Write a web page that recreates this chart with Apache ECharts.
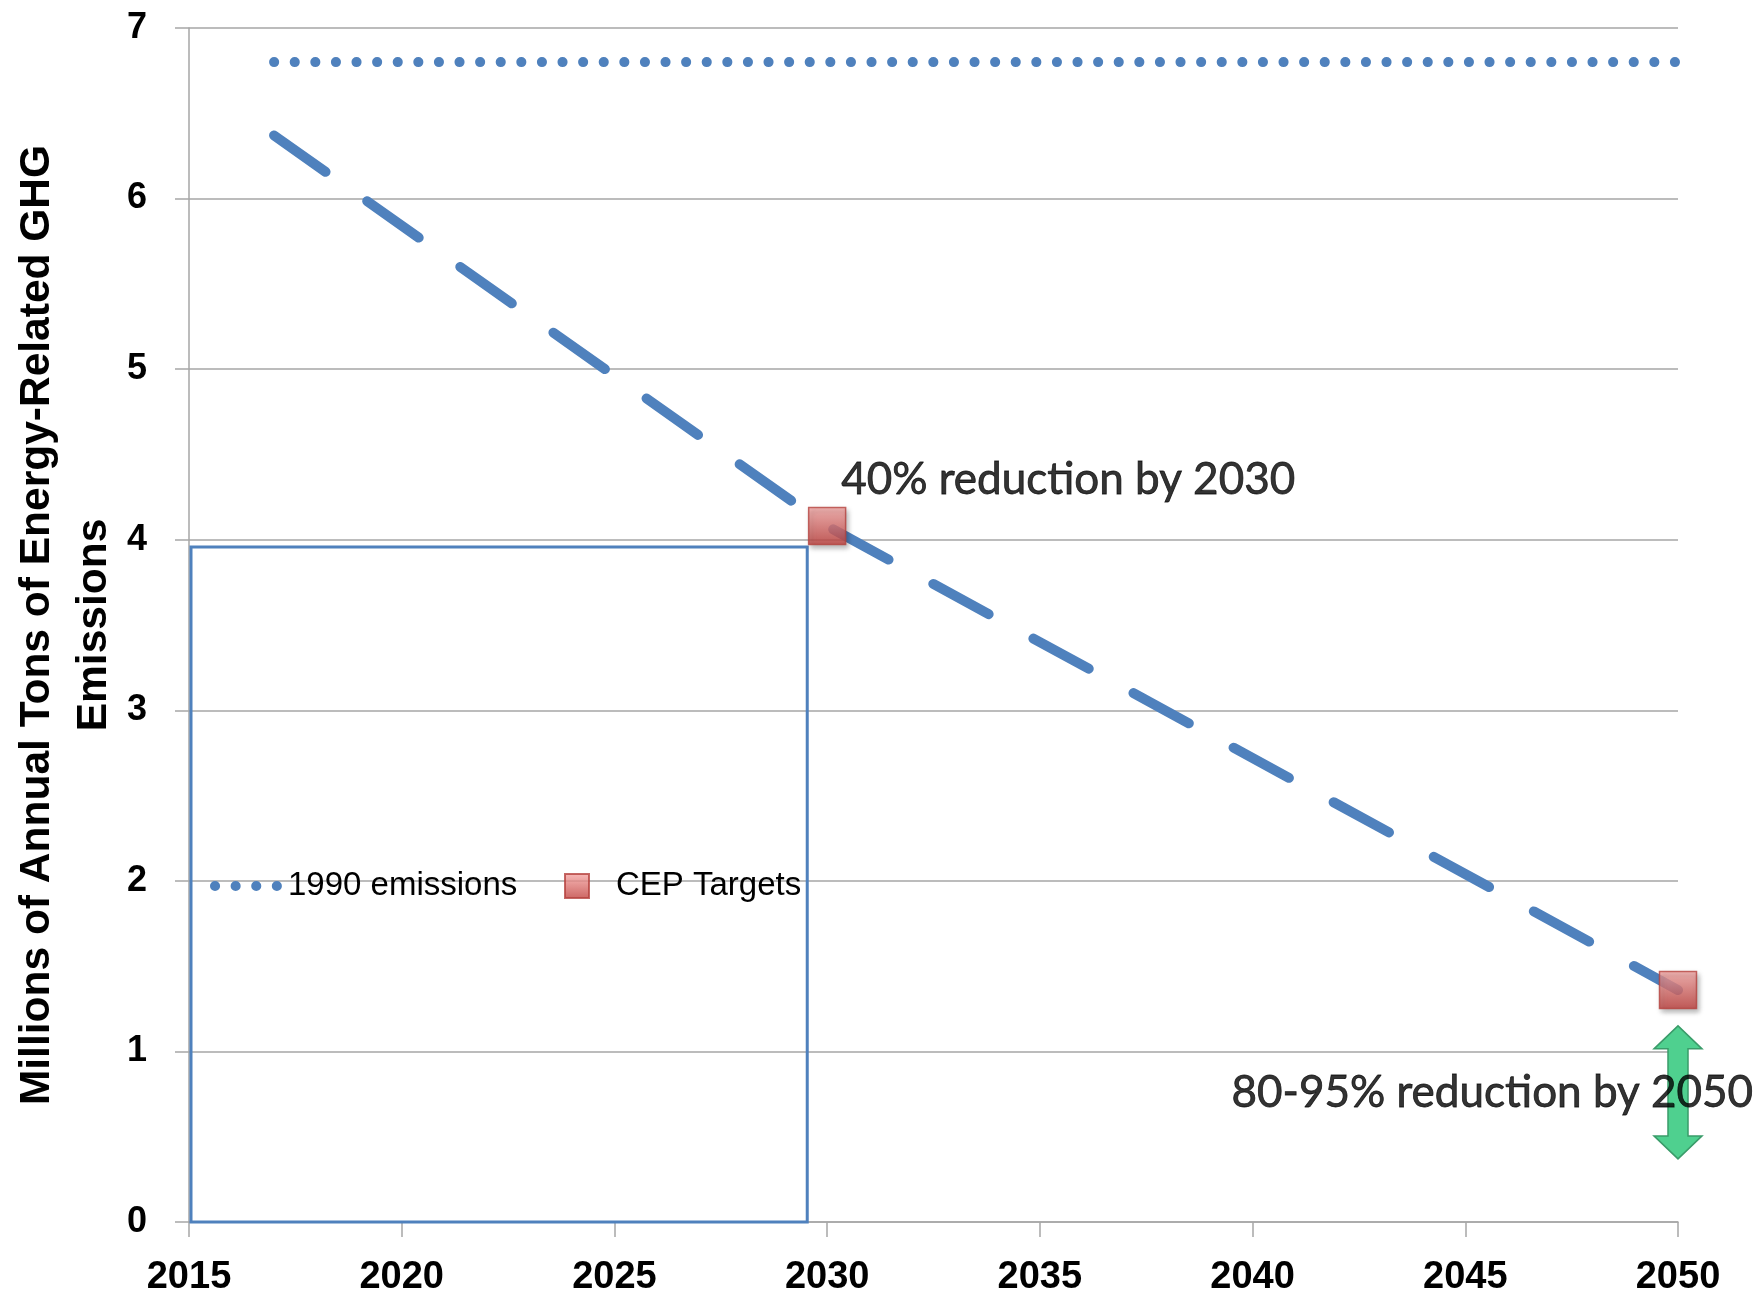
<!DOCTYPE html>
<html>
<head>
<meta charset="utf-8">
<script src="https://cdn.jsdelivr.net/npm/echarts@6/dist/echarts.min.js"></script>
<style>
html,body{margin:0;padding:0;background:#fff;}
#chart{width:1758px;height:1299px;}
</style>
</head>
<body>
<div id="chart"></div>
<script>
// ---- data ----
const yTicks = [0, 1, 2, 3, 4, 5, 6, 7];
const xTicks = [2015, 2020, 2025, 2030, 2035, 2040, 2045, 2050];
const baselineYears = [2017, 2050];
const baselineValues = [6.8, 6.8];
const pathYears = [2017, 2030, 2050];
const pathValues = [6.37, 4.08, 1.36];
const targetYears = [2030, 2050];
const targetValues = [4.08, 1.36];
const targetLabels = ['40% reduction by 2030', '80-95% reduction by 2050'];
const arrowYear = [2050];
const arrowTop = [1.15];
const arrowBottom = [0.37];
const yTitle = 'Millions of Annual Tons of Energy-Related GHG\nEmissions';

const BLUE = '#4f81bd';
const GRID = '#a6a6a6';

const chart = echarts.init(document.getElementById('chart'));

const labelFont = { color: '#000', fontFamily: 'Lato', fontSize: 44, textBorderWidth: 0.8, textBorderColor: '#000' };

const option = {
  animation: false,
  backgroundColor: '#ffffff',
  grid: { left: 189, right: 80, top: 28, bottom: 77, outerBoundsMode: 'none', containLabel: false },
  xAxis: {
    type: 'value',
    min: xTicks[0], max: xTicks[xTicks.length - 1], interval: 5,
    axisLine: { show: true, lineStyle: { color: GRID, width: 1.5 } },
    axisTick: { show: true, length: 15, lineStyle: { color: GRID, width: 1.5 } },
    splitLine: { show: false },
    axisLabel: {
      margin: 37, color: '#000', fontFamily: 'Liberation Sans', fontWeight: 'bold', fontSize: 38,
      formatter: v => String(v)
    }
  },
  yAxis: {
    type: 'value',
    min: yTicks[0], max: yTicks[yTicks.length - 1], interval: 1,
    axisLine: { show: true, lineStyle: { color: GRID, width: 1.5 } },
    axisTick: { show: true, length: 14, lineStyle: { color: GRID, width: 1.5 } },
    splitLine: { show: true, lineStyle: { color: GRID, width: 1.5 } },
    axisLabel: {
      margin: 42, color: '#000', fontFamily: 'Liberation Sans', fontWeight: 'bold', fontSize: 36
    },
    name: yTitle,
    nameLocation: 'middle',
    nameRotate: 90,
    nameGap: 66,
    nameMoveOverlap: false,
    nameTextStyle: {
      color: '#000', fontFamily: 'Liberation Sans', fontWeight: 'bold', fontSize: 42.5,
      lineHeight: 57, align: 'center'
    }
  },
  legend: {
    left: 191, top: 547,
    orient: 'horizontal',
    padding: [321, 6, 318, 19],
    borderColor: BLUE, borderWidth: 3,
    backgroundColor: 'rgba(255,255,255,0)',
    itemWidth: 68, itemHeight: 24, itemGap: 41,
    symbolKeepAspect: true,
    textStyle: { color: '#000', fontFamily: 'Liberation Sans', fontSize: 33, lineHeight: 36 },
    data: [
      {
        name: '1990 emissions',
        itemStyle: { opacity: 0 },
        lineStyle: { width: 10, color: BLUE, type: [0.1, 20.5], cap: 'round' },
        textStyle: { width: 235, fontSize: 33, fontFamily: 'Liberation Sans', color: '#000' }
      },
      {
        name: 'CEP Targets',
        icon: 'path://M0,0h10v10h-10z'
      }
    ]
  },
  series: [
    {
      name: '1990 emissions',
      type: 'line',
      data: baselineYears.map((y, i) => [y, baselineValues[i]]),
      symbol: 'none',
      lineStyle: { color: BLUE, width: 10, type: [0.1, 20.5], cap: 'round' },
      itemStyle: { color: BLUE },
      z: 2
    },
    {
      name: 'Trajectory',
      type: 'line',
      data: pathYears.map((y, i) => [y, pathValues[i]]),
      symbol: 'none',
      lineStyle: { color: BLUE, width: 10, type: [63, 51], cap: 'round', join: 'round' },
      itemStyle: { color: BLUE },
      z: 2
    },
    {
      name: 'Reduction range',
      type: 'custom',
      z: 3,
      data: arrowYear.map((y, i) => [y, arrowTop[i], arrowBottom[i]]),
      renderItem: function (params, api) {
        const top = api.coord([api.value(0), api.value(1)]);
        const bot = api.coord([api.value(0), api.value(2)]);
        const cx = top[0];
        const hw = 24, sw = 10, hh = 23;
        const t = top[1], b = bot[1];
        return {
          type: 'polygon',
          shape: {
            points: [
              [cx, t], [cx + hw, t + hh], [cx + sw, t + hh], [cx + sw, b - hh], [cx + hw, b - hh],
              [cx, b], [cx - hw, b - hh], [cx - sw, b - hh], [cx - sw, t + hh], [cx - hw, t + hh]
            ]
          },
          style: { fill: '#4fd08f', stroke: '#3a9c6a', lineWidth: 1.5 }
        };
      }
    },
    {
      name: 'CEP Targets',
      type: 'scatter',
      zlevel: 1,
      z: 10,
      symbol: 'rect',
      symbolSize: 37,
      data: targetYears.map((y, i) => ({
        value: [y, targetValues[i]],
        label: i === 0
          ? Object.assign({ show: true, formatter: targetLabels[i], position: 'inside', align: 'left', verticalAlign: 'middle', offset: [14, -46] }, labelFont)
          : Object.assign({ show: true, formatter: targetLabels[i], position: 'inside', align: 'right', verticalAlign: 'middle', offset: [75, 103] }, labelFont)
      })),
      itemStyle: {
        color: new echarts.graphic.LinearGradient(0, 0, 0, 1, [
          { offset: 0, color: '#f7a9a7' },
          { offset: 1, color: '#bf3f3c' }
        ]),
        borderColor: '#b5423f',
        borderWidth: 1.5,
        shadowBlur: 5,
        shadowColor: 'rgba(0,0,0,0.35)',
        shadowOffsetX: 2,
        shadowOffsetY: 3
      },
      label: labelFont
    }
  ]
};

chart.setOption(option);
</script>
</body>
</html>
